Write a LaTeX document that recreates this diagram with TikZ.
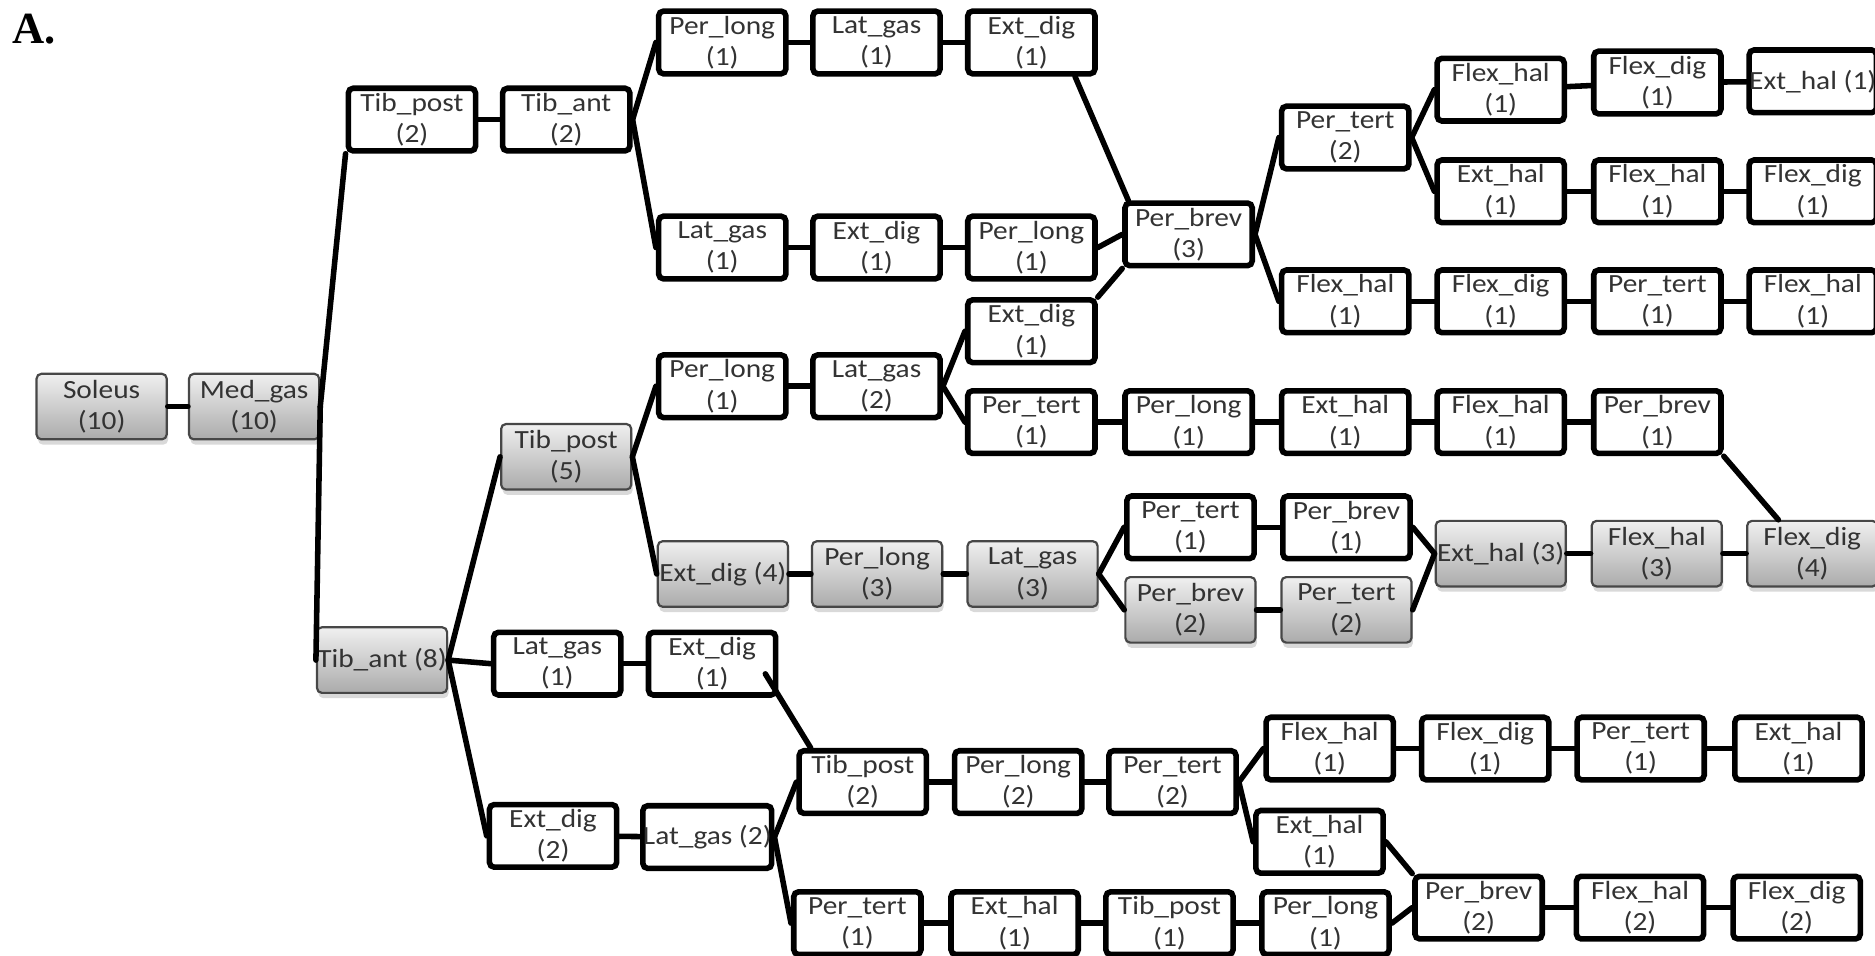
\documentclass[tikz,border=0pt]{standalone}
\usepackage{fontspec}
\setmainfont{Carlito}[FakeStretch=1.12]
\newfontfamily\panelfont{Liberation Serif}
\usetikzlibrary{shadows}

\begin{document}
\begin{tikzpicture}[x=0.25mm, y=-0.25mm,
  base/.style={rounded corners=1mm, inner sep=0pt, align=center, text=black!80,
    font=\fontsize{15.6}{18.6}\selectfont},
  wbox/.style={base, draw=black, line width=3.3pt, fill=white,
    minimum width=26.6mm, minimum height=13.1mm},
  gbox/.style={base, draw=black!72, line width=1.3pt, top color=black!6, bottom color=black!33,
    minimum width=27.2mm, minimum height=13.7mm,
    drop shadow={shadow xshift=0.3mm, shadow yshift=-1.1mm, opacity=0.3}},
  link/.style={line width=3.3pt, line cap=round}]

\useasboundingbox (0,0) rectangle (1568,799);
\clip (0,0) rectangle (1568,799);

\node[font=\panelfont\bfseries\fontsize{26.5}{30}\selectfont, anchor=base west, inner sep=0pt] (panel) at (10,36) {A.};

% root and first split
\node[gbox] (soleus) at (85,340) {Soleus\\(10)};
\node[gbox] (medgas) at (212.5,340) {Med\_gas\\(10)};

% upper branch
\node[wbox] (tp2) at (344.5,100) {Tib\_post\\(2)};
\node[wbox] (ta2) at (473.5,100) {Tib\_ant\\(2)};
\node[wbox] (pl1a) at (604,35.5) {Per\_long\\(1)};
\node[wbox] (lg1a) at (733,35.5) {Lat\_gas\\(1)};
\node[wbox] (ed1a) at (862.5,35.5) {Ext\_dig\\(1)};
\node[wbox] (lg1b) at (604,207) {Lat\_gas\\(1)};
\node[wbox] (ed1b) at (733,207) {Ext\_dig\\(1)};
\node[wbox] (pl1b) at (862.5,207) {Per\_long\\(1)};
\node[wbox] (pb3) at (994,196) {Per\_brev\\(3)};
\node[wbox] (pt2) at (1125,115) {Per\_tert\\(2)};
\node[wbox] (fh1a) at (1255,75) {Flex\_hal\\(1)};
\node[wbox] (fd1a) at (1386,69) {Flex\_dig\\(1)};
\node[wbox] (eh1a) at (1516,68) {Ext\_hal (1)};
\node[wbox] (eh1b) at (1255,160) {Ext\_hal\\(1)};
\node[wbox] (fh1b) at (1386,160) {Flex\_hal\\(1)};
\node[wbox] (fd1b) at (1516,160) {Flex\_dig\\(1)};
\node[wbox] (fh1c) at (1125,252) {Flex\_hal\\(1)};
\node[wbox] (fd1c) at (1255,252) {Flex\_dig\\(1)};
\node[wbox] (pt1c) at (1386,252) {Per\_tert\\(1)};
\node[wbox] (fh1d) at (1516,252) {Flex\_hal\\(1)};

% Tib_post (5) branch
\node[wbox] (ed1c) at (862.5,277) {Ext\_dig\\(1)};
\node[wbox] (pl1c) at (604,323) {Per\_long\\(1)};
\node[wbox] (lg2) at (733,323) {Lat\_gas\\(2)};
\node[wbox] (pt1d) at (862.5,353) {Per\_tert\\(1)};
\node[wbox] (pl1d) at (994,353) {Per\_long\\(1)};
\node[wbox] (eh1e) at (1125,353) {Ext\_hal\\(1)};
\node[wbox] (fh1e) at (1255,353) {Flex\_hal\\(1)};
\node[wbox] (pb1e) at (1386,353) {Per\_brev\\(1)};
\node[gbox] (tp5) at (473.5,382) {Tib\_post\\(5)};
\node[gbox] (ed4) at (604.5,480) {Ext\_dig (4)};
\node[gbox] (pl3) at (733.5,480) {Per\_long\\(3)};
\node[gbox] (lg3) at (863.5,480) {Lat\_gas\\(3)};
\node[wbox] (pt1f) at (995.5,441) {Per\_tert\\(1)};
\node[wbox] (pb1f) at (1126,441) {Per\_brev\\(1)};
\node[gbox] (pb2) at (995.5,510) {Per\_brev\\(2)};
\node[gbox] (pt2g) at (1126,510) {Per\_tert\\(2)};
\node[gbox] (eh3) at (1255,463) {Ext\_hal (3)};
\node[gbox] (fh3) at (1385.5,463) {Flex\_hal\\(3)};
\node[gbox] (fd4) at (1515.5,463) {Flex\_dig\\(4)};

% Tib_ant (8) branch
\node[gbox] (ta8) at (319.5,552) {Tib\_ant (8)};
\node[wbox] (lg1h) at (466,555) {Lat\_gas\\(1)};
\node[wbox] (ed1h) at (595.5,555) {Ext\_dig\\(1)};
\node[wbox] (ed2) at (462.5,699) {Ext\_dig\\(2)};
\node[wbox] (lg2i) at (591.5,700) {Lat\_gas (2)};
\node[wbox] (tp2i) at (721.5,654) {Tib\_post\\(2)};
\node[wbox] (pl2) at (851.5,654) {Per\_long\\(2)};
\node[wbox] (pt2i) at (980.5,654) {Per\_tert\\(2)};
\node[wbox] (fh1j) at (1112,626) {Flex\_hal\\(1)};
\node[wbox] (fd1j) at (1242,626) {Flex\_dig\\(1)};
\node[wbox] (pt1j) at (1372,626) {Per\_tert\\(1)};
\node[wbox] (eh1j) at (1504,626) {Ext\_hal\\(1)};
\node[wbox] (eh1k) at (1103.5,704) {Ext\_hal\\(1)};
\node[wbox] (pb2k) at (1236.5,759) {Per\_brev\\(2)};
\node[wbox] (fh2) at (1371.5,759) {Flex\_hal\\(2)};
\node[wbox] (fd2) at (1502.5,759) {Flex\_dig\\(2)};
\node[wbox] (pt1l) at (717,772) {Per\_tert\\(1)};
\node[wbox] (eh1l) at (848.5,772) {Ext\_hal\\(1)};
\node[wbox] (tp1l) at (978,772) {Tib\_post\\(1)};
\node[wbox] (pl1l) at (1108.5,772) {Per\_long\\(1)};

% connectors
\draw[link] (soleus) -- (medgas);
\draw[link] (medgas.east) -- (tp2.south west);
\draw[link] (medgas.east) -- (ta8.west);
\draw[link] (tp2) -- (ta2);
\draw[link] (ta2.east) -- (pl1a.west);
\draw[link] (ta2.east) -- (lg1b.west);
\draw[link] (pl1a) -- (lg1a);
\draw[link] (lg1a) -- (ed1a);
\draw[link] (lg1b) -- (ed1b);
\draw[link] (ed1b) -- (pl1b);
\draw[link] ([xshift=-4.75mm]ed1a.south east) -- ([xshift=1.25mm]pb3.north west);
\draw[link] (pl1b.east) -- (pb3.west);
\draw[link] (ed1c.north east) -- (pb3.south west);
\draw[link] (pb3.east) -- (pt2.west);
\draw[link] (pb3.east) -- (fh1c.west);
\draw[link] (pt2.east) -- (fh1a.west);
\draw[link] (pt2.east) -- (eh1b.west);
\draw[link] (fh1a) -- (fd1a);
\draw[link] (fd1a) -- (eh1a);
\draw[link] (eh1b) -- (fh1b);
\draw[link] (fh1b) -- (fd1b);
\draw[link] (fh1c) -- (fd1c);
\draw[link] (fd1c) -- (pt1c);
\draw[link] (pt1c) -- (fh1d);

\draw[link] (tp5.east) -- (pl1c.west);
\draw[link] (tp5.east) -- (ed4.west);
\draw[link] (pl1c) -- (lg2);
\draw[link] (lg2.east) -- (ed1c.west);
\draw[link] (lg2.east) -- (pt1d.west);
\draw[link] (pt1d) -- (pl1d);
\draw[link] (pl1d) -- (eh1e);
\draw[link] (eh1e) -- (fh1e);
\draw[link] (fh1e) -- (pb1e);
\draw[link] (pb1e.south east) -- ([xshift=6.75mm]fd4.north west);
\draw[link] (ed4) -- (pl3);
\draw[link] (pl3) -- (lg3);
\draw[link] (lg3.east) -- (pt1f.west);
\draw[link] (lg3.east) -- (pb2.west);
\draw[link] (pt1f) -- (pb1f);
\draw[link] (pb2) -- (pt2g);
\draw[link] (pb1f.east) -- (eh3.west);
\draw[link] (pt2g.east) -- (eh3.west);
\draw[link] (eh3) -- (fh3);
\draw[link] (fh3) -- (fd4);

\draw[link] (ta8.east) -- (tp5.west);
\draw[link] (ta8.east) -- (lg1h.west);
\draw[link] (ta8.east) -- (ed2.west);
\draw[link] (lg1h) -- (ed1h);
\draw[link] ([xshift=-2.75mm,yshift=5mm]ed1h.south east) -- ([xshift=3mm]tp2i.north west);
\draw[link] (ed2) -- (lg2i);
\draw[link] (lg2i.east) -- (tp2i.west);
\draw[link] (lg2i.east) -- (pt1l.west);
\draw[link] (tp2i) -- (pl2);
\draw[link] (pl2) -- (pt2i);
\draw[link] (pt2i.east) -- (fh1j.west);
\draw[link] (pt2i.east) -- (eh1k.west);
\draw[link] (fh1j) -- (fd1j);
\draw[link] (fd1j) -- (pt1j);
\draw[link] (pt1j) -- (eh1j);
\draw[link] (eh1k.east) -- (pb2k.north west);
\draw[link] (pl1l.east) -- (pb2k.west);
\draw[link] (pb2k) -- (fh2);
\draw[link] (fh2) -- (fd2);
\draw[link] (pt1l) -- (eh1l);
\draw[link] (eh1l) -- (tp1l);
\draw[link] (tp1l) -- (pl1l);
\end{tikzpicture}
\end{document}
